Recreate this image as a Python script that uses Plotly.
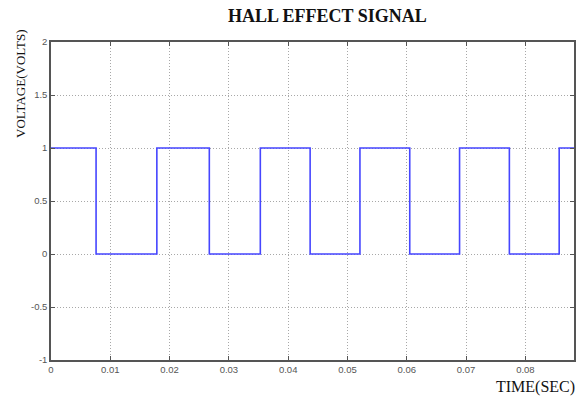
import plotly.graph_objects as go

# Switching instants of the Hall sensor output (s) and the level held after each
edge_times = [0.0, 0.0076, 0.01785, 0.0267, 0.0353, 0.0437, 0.0521, 0.0605, 0.0689, 0.0773, 0.0857]
levels = [1, 0, 1, 0, 1, 0, 1, 0, 1, 0, 1]
t_end = 0.0882

x_ticks = [0, 0.01, 0.02, 0.03, 0.04, 0.05, 0.06, 0.07, 0.08]
x_tick_text = ["0", "0.01", "0.02", "0.03", "0.04", "0.05", "0.06", "0.07", "0.08"]
y_ticks = [-1, -0.5, 0, 0.5, 1, 1.5, 2]
y_tick_text = ["-1", "-0.5", "0", "0.5", "1", "1.5", "2"]

xs = edge_times + [t_end]
ys = levels + [levels[-1]]

fig = go.Figure()
fig.add_trace(go.Scatter(
    x=xs, y=ys, mode="lines", line_shape="hv",
    line=dict(color="#4646ff", width=1.6), showlegend=False,
))

axis_common = dict(
    showline=True, linecolor="#555555", linewidth=1.5, mirror="ticks",
    ticks="inside", ticklen=4, tickcolor="#555555",
    showgrid=True, gridcolor="#a8a8a8", griddash="1px,2px", gridwidth=1,
    zeroline=False, tickfont=dict(family="Liberation Sans", size=9.5, color="#555555"),
)

fig.update_xaxes(range=[0, t_end], tickvals=x_ticks, ticktext=x_tick_text, **axis_common)
fig.update_yaxes(range=[-1, 2], tickvals=y_ticks, ticktext=y_tick_text, **axis_common)

fig.update_layout(
    width=584, height=398,
    margin=dict(l=51, r=8, t=42, b=38),
    paper_bgcolor="white", plot_bgcolor="white",
    annotations=[
        dict(text="<b>HALL EFFECT SIGNAL</b>", xref="paper", yref="paper",
             x=0.529, y=1.0, yshift=26, showarrow=False, xanchor="center", yanchor="middle",
             font=dict(family="Liberation Serif", size=18, color="#111111")),
        dict(text="VOLTAGE(VOLTS)", xref="paper", yref="paper",
             x=0, xshift=-30, y=0.868, textangle=-90, showarrow=False,
             xanchor="center", yanchor="middle",
             font=dict(family="Liberation Serif", size=13, color="#111111")),
        dict(text="TIME(SEC)", xref="paper", yref="paper",
             x=1.0, xshift=3, y=0, yshift=-27, showarrow=False, xanchor="right", yanchor="middle",
             font=dict(family="Liberation Serif", size=16, color="#111111")),
    ],
)

fig.write_html("out.html")
